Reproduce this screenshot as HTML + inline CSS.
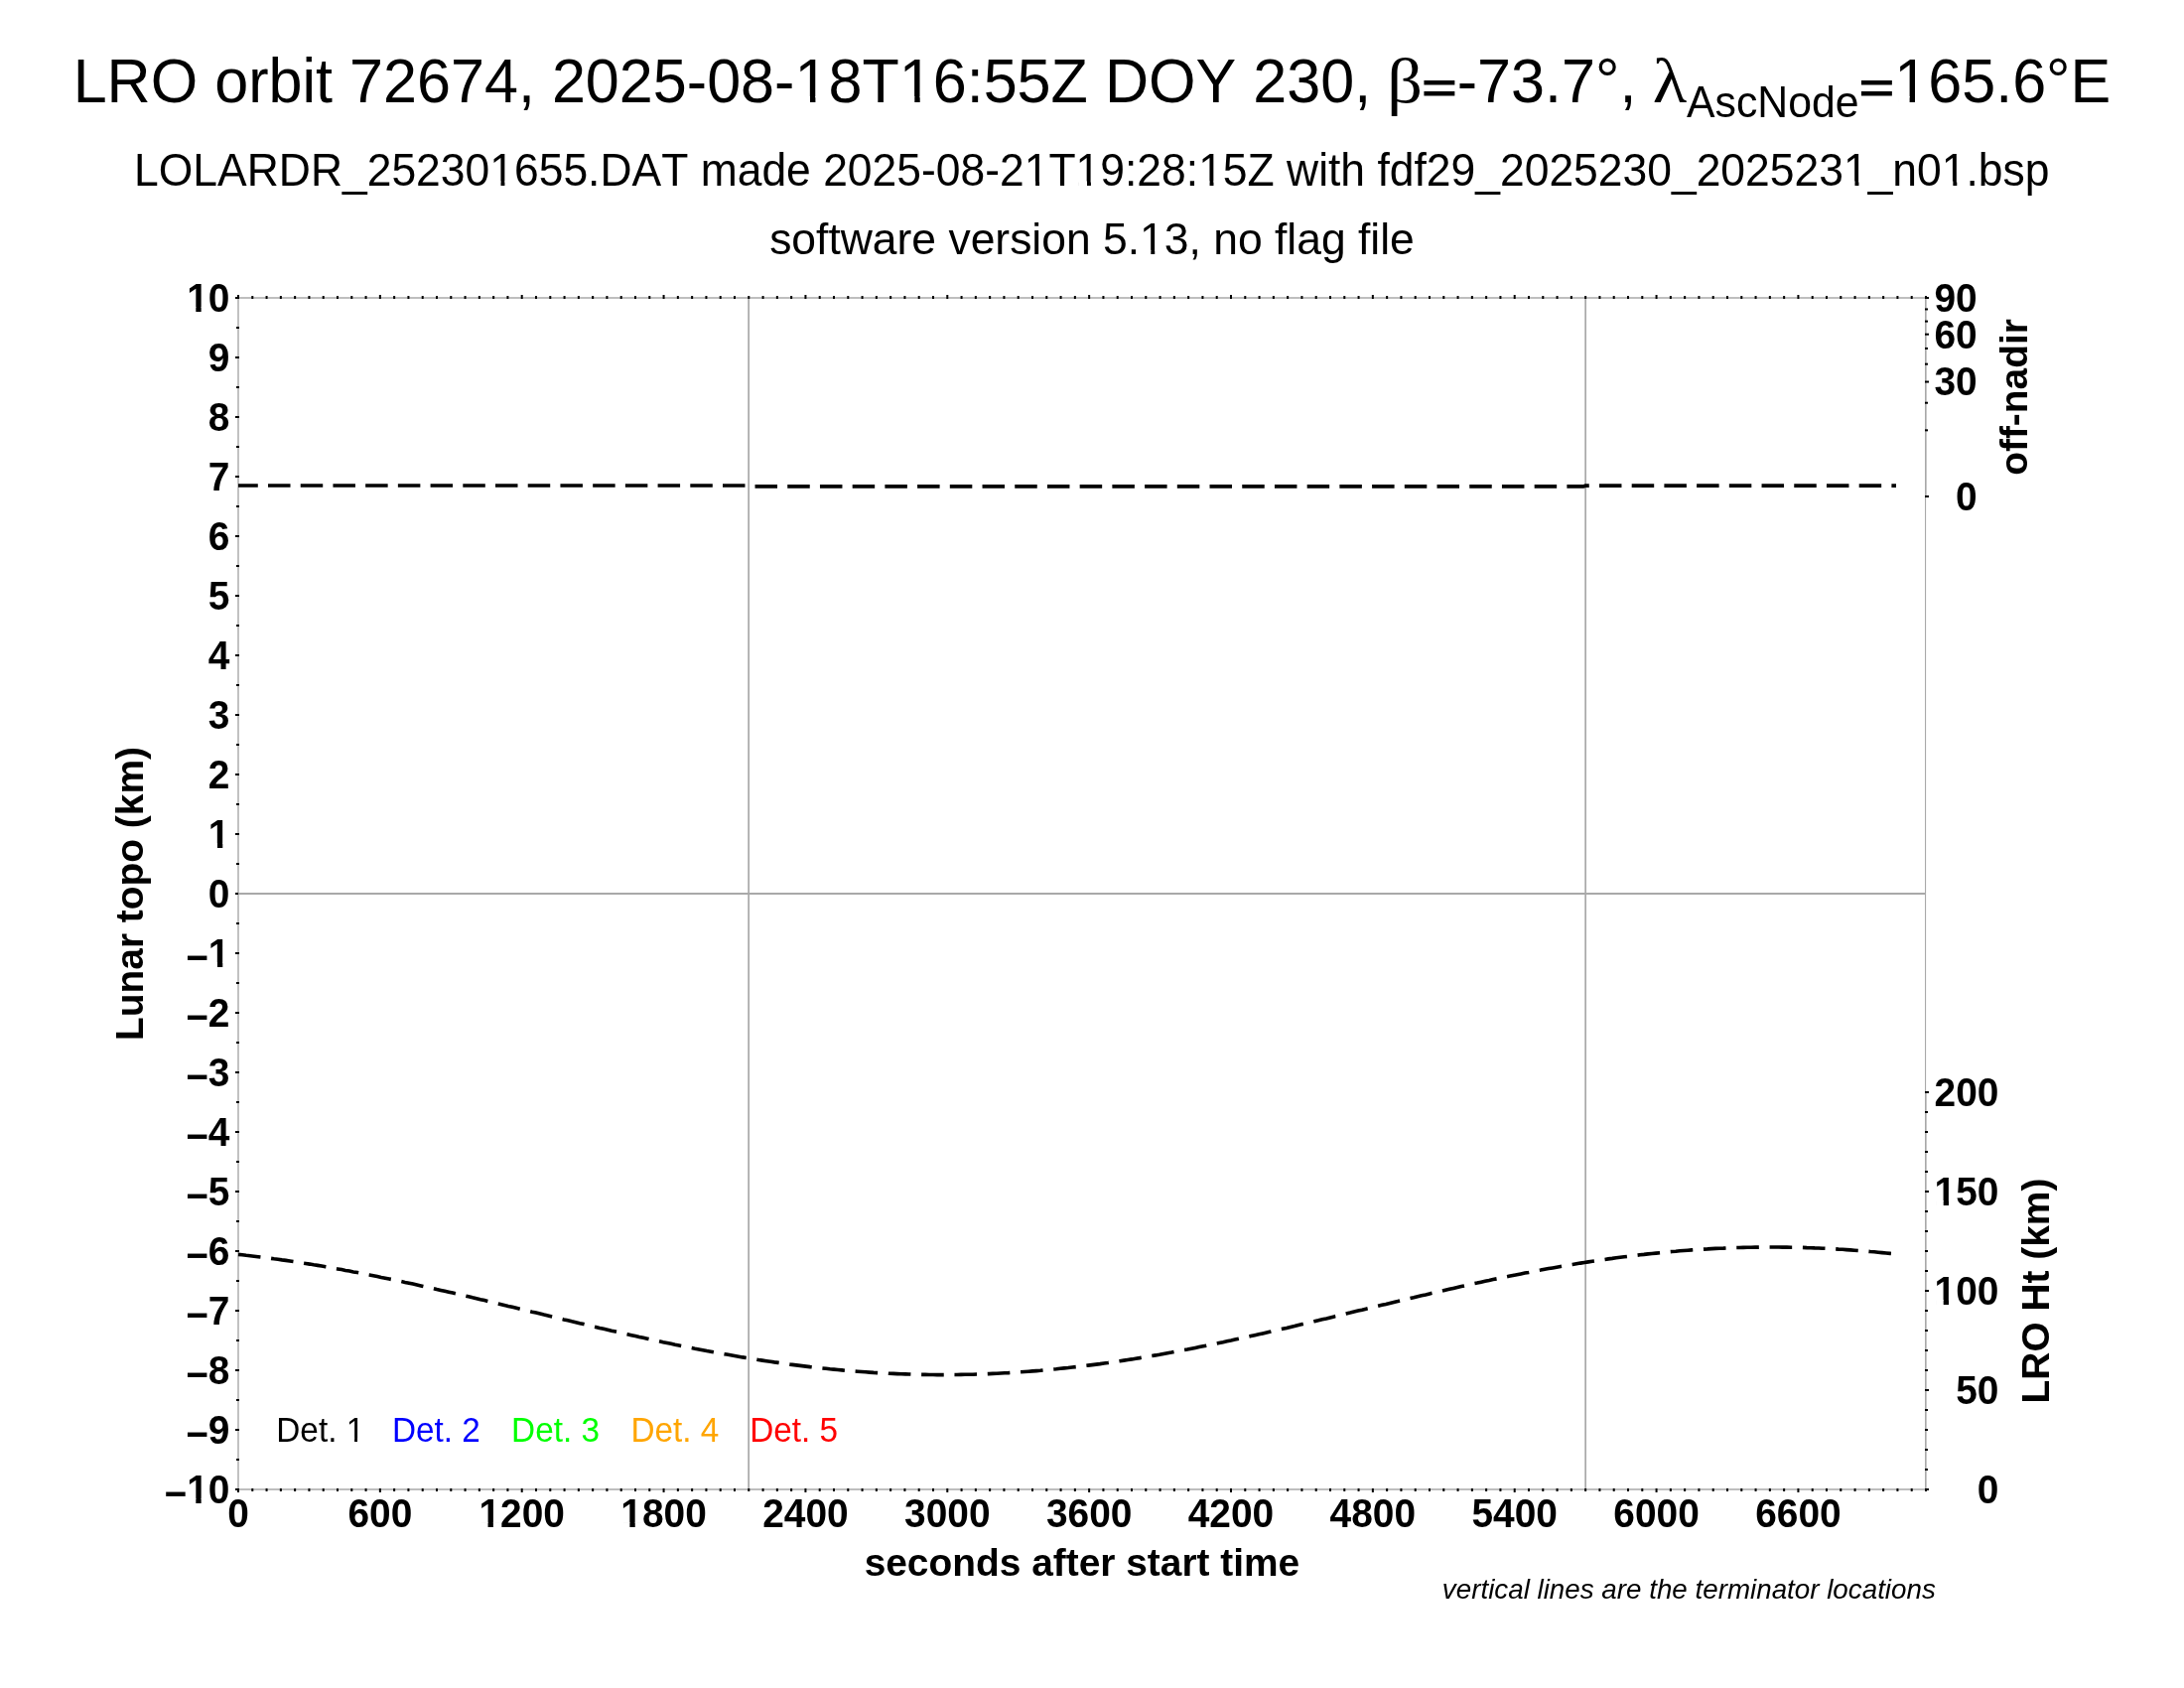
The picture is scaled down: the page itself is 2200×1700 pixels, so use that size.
<!DOCTYPE html>
<html lang="en"><head><meta charset="utf-8"><title>LRO orbit 72674</title>
<style>html,body{margin:0;padding:0;background:#fff;width:2200px;height:1700px;overflow:hidden}</style></head>
<body>
<svg width="2200" height="1700" viewBox="0 0 2200 1700" style="position:absolute;left:0;top:0;will-change:transform;font-family:'Liberation Sans',sans-serif;font-kerning:none">
<g stroke="#a9a9a9" fill="none">
<path stroke-width="1.42" d="M239.3 300H1940.1M239.3 1500H1940.1M240 300V1500"/>
<path stroke-width="1.1" d="M1939.55 300V1500"/>
<path stroke-width="1.2" d="M1940 300V500M1940 1100V1500"/>
<path stroke-width="1.7" d="M754.15 300V1500M1597.15 300V1500"/>
</g>
<g fill="#000">
<rect x="239.00" y="297.00" width="2.00" height="4.00"/>
<rect x="239.00" y="1499.00" width="2.00" height="4.00"/>
<rect x="253.29" y="298.00" width="2.00" height="3.00"/>
<rect x="253.29" y="1499.00" width="2.00" height="3.00"/>
<rect x="267.57" y="298.00" width="2.00" height="3.00"/>
<rect x="267.57" y="1499.00" width="2.00" height="3.00"/>
<rect x="281.86" y="298.00" width="2.00" height="3.00"/>
<rect x="281.86" y="1499.00" width="2.00" height="3.00"/>
<rect x="296.14" y="298.00" width="2.00" height="3.00"/>
<rect x="296.14" y="1499.00" width="2.00" height="3.00"/>
<rect x="310.43" y="298.00" width="2.00" height="3.00"/>
<rect x="310.43" y="1499.00" width="2.00" height="3.00"/>
<rect x="324.71" y="298.00" width="2.00" height="3.00"/>
<rect x="324.71" y="1499.00" width="2.00" height="3.00"/>
<rect x="339.00" y="298.00" width="2.00" height="3.00"/>
<rect x="339.00" y="1499.00" width="2.00" height="3.00"/>
<rect x="353.29" y="298.00" width="2.00" height="3.00"/>
<rect x="353.29" y="1499.00" width="2.00" height="3.00"/>
<rect x="367.57" y="298.00" width="2.00" height="3.00"/>
<rect x="367.57" y="1499.00" width="2.00" height="3.00"/>
<rect x="381.86" y="297.00" width="2.00" height="4.00"/>
<rect x="381.86" y="1499.00" width="2.00" height="4.00"/>
<rect x="396.14" y="298.00" width="2.00" height="3.00"/>
<rect x="396.14" y="1499.00" width="2.00" height="3.00"/>
<rect x="410.43" y="298.00" width="2.00" height="3.00"/>
<rect x="410.43" y="1499.00" width="2.00" height="3.00"/>
<rect x="424.71" y="298.00" width="2.00" height="3.00"/>
<rect x="424.71" y="1499.00" width="2.00" height="3.00"/>
<rect x="439.00" y="298.00" width="2.00" height="3.00"/>
<rect x="439.00" y="1499.00" width="2.00" height="3.00"/>
<rect x="453.29" y="298.00" width="2.00" height="3.00"/>
<rect x="453.29" y="1499.00" width="2.00" height="3.00"/>
<rect x="467.57" y="298.00" width="2.00" height="3.00"/>
<rect x="467.57" y="1499.00" width="2.00" height="3.00"/>
<rect x="481.86" y="298.00" width="2.00" height="3.00"/>
<rect x="481.86" y="1499.00" width="2.00" height="3.00"/>
<rect x="496.14" y="298.00" width="2.00" height="3.00"/>
<rect x="496.14" y="1499.00" width="2.00" height="3.00"/>
<rect x="510.43" y="298.00" width="2.00" height="3.00"/>
<rect x="510.43" y="1499.00" width="2.00" height="3.00"/>
<rect x="524.71" y="297.00" width="2.00" height="4.00"/>
<rect x="524.71" y="1499.00" width="2.00" height="4.00"/>
<rect x="539.00" y="298.00" width="2.00" height="3.00"/>
<rect x="539.00" y="1499.00" width="2.00" height="3.00"/>
<rect x="553.29" y="298.00" width="2.00" height="3.00"/>
<rect x="553.29" y="1499.00" width="2.00" height="3.00"/>
<rect x="567.57" y="298.00" width="2.00" height="3.00"/>
<rect x="567.57" y="1499.00" width="2.00" height="3.00"/>
<rect x="581.86" y="298.00" width="2.00" height="3.00"/>
<rect x="581.86" y="1499.00" width="2.00" height="3.00"/>
<rect x="596.14" y="298.00" width="2.00" height="3.00"/>
<rect x="596.14" y="1499.00" width="2.00" height="3.00"/>
<rect x="610.43" y="298.00" width="2.00" height="3.00"/>
<rect x="610.43" y="1499.00" width="2.00" height="3.00"/>
<rect x="624.71" y="298.00" width="2.00" height="3.00"/>
<rect x="624.71" y="1499.00" width="2.00" height="3.00"/>
<rect x="639.00" y="298.00" width="2.00" height="3.00"/>
<rect x="639.00" y="1499.00" width="2.00" height="3.00"/>
<rect x="653.29" y="298.00" width="2.00" height="3.00"/>
<rect x="653.29" y="1499.00" width="2.00" height="3.00"/>
<rect x="667.57" y="297.00" width="2.00" height="4.00"/>
<rect x="667.57" y="1499.00" width="2.00" height="4.00"/>
<rect x="681.86" y="298.00" width="2.00" height="3.00"/>
<rect x="681.86" y="1499.00" width="2.00" height="3.00"/>
<rect x="696.14" y="298.00" width="2.00" height="3.00"/>
<rect x="696.14" y="1499.00" width="2.00" height="3.00"/>
<rect x="710.43" y="298.00" width="2.00" height="3.00"/>
<rect x="710.43" y="1499.00" width="2.00" height="3.00"/>
<rect x="724.71" y="298.00" width="2.00" height="3.00"/>
<rect x="724.71" y="1499.00" width="2.00" height="3.00"/>
<rect x="739.00" y="298.00" width="2.00" height="3.00"/>
<rect x="739.00" y="1499.00" width="2.00" height="3.00"/>
<rect x="753.29" y="298.00" width="2.00" height="3.00"/>
<rect x="753.29" y="1499.00" width="2.00" height="3.00"/>
<rect x="767.57" y="298.00" width="2.00" height="3.00"/>
<rect x="767.57" y="1499.00" width="2.00" height="3.00"/>
<rect x="781.86" y="298.00" width="2.00" height="3.00"/>
<rect x="781.86" y="1499.00" width="2.00" height="3.00"/>
<rect x="796.14" y="298.00" width="2.00" height="3.00"/>
<rect x="796.14" y="1499.00" width="2.00" height="3.00"/>
<rect x="810.43" y="297.00" width="2.00" height="4.00"/>
<rect x="810.43" y="1499.00" width="2.00" height="4.00"/>
<rect x="824.71" y="298.00" width="2.00" height="3.00"/>
<rect x="824.71" y="1499.00" width="2.00" height="3.00"/>
<rect x="839.00" y="298.00" width="2.00" height="3.00"/>
<rect x="839.00" y="1499.00" width="2.00" height="3.00"/>
<rect x="853.29" y="298.00" width="2.00" height="3.00"/>
<rect x="853.29" y="1499.00" width="2.00" height="3.00"/>
<rect x="867.57" y="298.00" width="2.00" height="3.00"/>
<rect x="867.57" y="1499.00" width="2.00" height="3.00"/>
<rect x="881.86" y="298.00" width="2.00" height="3.00"/>
<rect x="881.86" y="1499.00" width="2.00" height="3.00"/>
<rect x="896.14" y="298.00" width="2.00" height="3.00"/>
<rect x="896.14" y="1499.00" width="2.00" height="3.00"/>
<rect x="910.43" y="298.00" width="2.00" height="3.00"/>
<rect x="910.43" y="1499.00" width="2.00" height="3.00"/>
<rect x="924.71" y="298.00" width="2.00" height="3.00"/>
<rect x="924.71" y="1499.00" width="2.00" height="3.00"/>
<rect x="939.00" y="298.00" width="2.00" height="3.00"/>
<rect x="939.00" y="1499.00" width="2.00" height="3.00"/>
<rect x="953.29" y="297.00" width="2.00" height="4.00"/>
<rect x="953.29" y="1499.00" width="2.00" height="4.00"/>
<rect x="967.57" y="298.00" width="2.00" height="3.00"/>
<rect x="967.57" y="1499.00" width="2.00" height="3.00"/>
<rect x="981.86" y="298.00" width="2.00" height="3.00"/>
<rect x="981.86" y="1499.00" width="2.00" height="3.00"/>
<rect x="996.14" y="298.00" width="2.00" height="3.00"/>
<rect x="996.14" y="1499.00" width="2.00" height="3.00"/>
<rect x="1010.43" y="298.00" width="2.00" height="3.00"/>
<rect x="1010.43" y="1499.00" width="2.00" height="3.00"/>
<rect x="1024.71" y="298.00" width="2.00" height="3.00"/>
<rect x="1024.71" y="1499.00" width="2.00" height="3.00"/>
<rect x="1039.00" y="298.00" width="2.00" height="3.00"/>
<rect x="1039.00" y="1499.00" width="2.00" height="3.00"/>
<rect x="1053.29" y="298.00" width="2.00" height="3.00"/>
<rect x="1053.29" y="1499.00" width="2.00" height="3.00"/>
<rect x="1067.57" y="298.00" width="2.00" height="3.00"/>
<rect x="1067.57" y="1499.00" width="2.00" height="3.00"/>
<rect x="1081.86" y="298.00" width="2.00" height="3.00"/>
<rect x="1081.86" y="1499.00" width="2.00" height="3.00"/>
<rect x="1096.14" y="297.00" width="2.00" height="4.00"/>
<rect x="1096.14" y="1499.00" width="2.00" height="4.00"/>
<rect x="1110.43" y="298.00" width="2.00" height="3.00"/>
<rect x="1110.43" y="1499.00" width="2.00" height="3.00"/>
<rect x="1124.71" y="298.00" width="2.00" height="3.00"/>
<rect x="1124.71" y="1499.00" width="2.00" height="3.00"/>
<rect x="1139.00" y="298.00" width="2.00" height="3.00"/>
<rect x="1139.00" y="1499.00" width="2.00" height="3.00"/>
<rect x="1153.29" y="298.00" width="2.00" height="3.00"/>
<rect x="1153.29" y="1499.00" width="2.00" height="3.00"/>
<rect x="1167.57" y="298.00" width="2.00" height="3.00"/>
<rect x="1167.57" y="1499.00" width="2.00" height="3.00"/>
<rect x="1181.86" y="298.00" width="2.00" height="3.00"/>
<rect x="1181.86" y="1499.00" width="2.00" height="3.00"/>
<rect x="1196.14" y="298.00" width="2.00" height="3.00"/>
<rect x="1196.14" y="1499.00" width="2.00" height="3.00"/>
<rect x="1210.43" y="298.00" width="2.00" height="3.00"/>
<rect x="1210.43" y="1499.00" width="2.00" height="3.00"/>
<rect x="1224.71" y="298.00" width="2.00" height="3.00"/>
<rect x="1224.71" y="1499.00" width="2.00" height="3.00"/>
<rect x="1239.00" y="297.00" width="2.00" height="4.00"/>
<rect x="1239.00" y="1499.00" width="2.00" height="4.00"/>
<rect x="1253.29" y="298.00" width="2.00" height="3.00"/>
<rect x="1253.29" y="1499.00" width="2.00" height="3.00"/>
<rect x="1267.57" y="298.00" width="2.00" height="3.00"/>
<rect x="1267.57" y="1499.00" width="2.00" height="3.00"/>
<rect x="1281.86" y="298.00" width="2.00" height="3.00"/>
<rect x="1281.86" y="1499.00" width="2.00" height="3.00"/>
<rect x="1296.14" y="298.00" width="2.00" height="3.00"/>
<rect x="1296.14" y="1499.00" width="2.00" height="3.00"/>
<rect x="1310.43" y="298.00" width="2.00" height="3.00"/>
<rect x="1310.43" y="1499.00" width="2.00" height="3.00"/>
<rect x="1324.71" y="298.00" width="2.00" height="3.00"/>
<rect x="1324.71" y="1499.00" width="2.00" height="3.00"/>
<rect x="1339.00" y="298.00" width="2.00" height="3.00"/>
<rect x="1339.00" y="1499.00" width="2.00" height="3.00"/>
<rect x="1353.29" y="298.00" width="2.00" height="3.00"/>
<rect x="1353.29" y="1499.00" width="2.00" height="3.00"/>
<rect x="1367.57" y="298.00" width="2.00" height="3.00"/>
<rect x="1367.57" y="1499.00" width="2.00" height="3.00"/>
<rect x="1381.86" y="297.00" width="2.00" height="4.00"/>
<rect x="1381.86" y="1499.00" width="2.00" height="4.00"/>
<rect x="1396.14" y="298.00" width="2.00" height="3.00"/>
<rect x="1396.14" y="1499.00" width="2.00" height="3.00"/>
<rect x="1410.43" y="298.00" width="2.00" height="3.00"/>
<rect x="1410.43" y="1499.00" width="2.00" height="3.00"/>
<rect x="1424.71" y="298.00" width="2.00" height="3.00"/>
<rect x="1424.71" y="1499.00" width="2.00" height="3.00"/>
<rect x="1439.00" y="298.00" width="2.00" height="3.00"/>
<rect x="1439.00" y="1499.00" width="2.00" height="3.00"/>
<rect x="1453.29" y="298.00" width="2.00" height="3.00"/>
<rect x="1453.29" y="1499.00" width="2.00" height="3.00"/>
<rect x="1467.57" y="298.00" width="2.00" height="3.00"/>
<rect x="1467.57" y="1499.00" width="2.00" height="3.00"/>
<rect x="1481.86" y="298.00" width="2.00" height="3.00"/>
<rect x="1481.86" y="1499.00" width="2.00" height="3.00"/>
<rect x="1496.14" y="298.00" width="2.00" height="3.00"/>
<rect x="1496.14" y="1499.00" width="2.00" height="3.00"/>
<rect x="1510.43" y="298.00" width="2.00" height="3.00"/>
<rect x="1510.43" y="1499.00" width="2.00" height="3.00"/>
<rect x="1524.71" y="297.00" width="2.00" height="4.00"/>
<rect x="1524.71" y="1499.00" width="2.00" height="4.00"/>
<rect x="1539.00" y="298.00" width="2.00" height="3.00"/>
<rect x="1539.00" y="1499.00" width="2.00" height="3.00"/>
<rect x="1553.29" y="298.00" width="2.00" height="3.00"/>
<rect x="1553.29" y="1499.00" width="2.00" height="3.00"/>
<rect x="1567.57" y="298.00" width="2.00" height="3.00"/>
<rect x="1567.57" y="1499.00" width="2.00" height="3.00"/>
<rect x="1581.86" y="298.00" width="2.00" height="3.00"/>
<rect x="1581.86" y="1499.00" width="2.00" height="3.00"/>
<rect x="1596.14" y="298.00" width="2.00" height="3.00"/>
<rect x="1596.14" y="1499.00" width="2.00" height="3.00"/>
<rect x="1610.43" y="298.00" width="2.00" height="3.00"/>
<rect x="1610.43" y="1499.00" width="2.00" height="3.00"/>
<rect x="1624.71" y="298.00" width="2.00" height="3.00"/>
<rect x="1624.71" y="1499.00" width="2.00" height="3.00"/>
<rect x="1639.00" y="298.00" width="2.00" height="3.00"/>
<rect x="1639.00" y="1499.00" width="2.00" height="3.00"/>
<rect x="1653.29" y="298.00" width="2.00" height="3.00"/>
<rect x="1653.29" y="1499.00" width="2.00" height="3.00"/>
<rect x="1667.57" y="297.00" width="2.00" height="4.00"/>
<rect x="1667.57" y="1499.00" width="2.00" height="4.00"/>
<rect x="1681.86" y="298.00" width="2.00" height="3.00"/>
<rect x="1681.86" y="1499.00" width="2.00" height="3.00"/>
<rect x="1696.14" y="298.00" width="2.00" height="3.00"/>
<rect x="1696.14" y="1499.00" width="2.00" height="3.00"/>
<rect x="1710.43" y="298.00" width="2.00" height="3.00"/>
<rect x="1710.43" y="1499.00" width="2.00" height="3.00"/>
<rect x="1724.71" y="298.00" width="2.00" height="3.00"/>
<rect x="1724.71" y="1499.00" width="2.00" height="3.00"/>
<rect x="1739.00" y="298.00" width="2.00" height="3.00"/>
<rect x="1739.00" y="1499.00" width="2.00" height="3.00"/>
<rect x="1753.29" y="298.00" width="2.00" height="3.00"/>
<rect x="1753.29" y="1499.00" width="2.00" height="3.00"/>
<rect x="1767.57" y="298.00" width="2.00" height="3.00"/>
<rect x="1767.57" y="1499.00" width="2.00" height="3.00"/>
<rect x="1781.86" y="298.00" width="2.00" height="3.00"/>
<rect x="1781.86" y="1499.00" width="2.00" height="3.00"/>
<rect x="1796.14" y="298.00" width="2.00" height="3.00"/>
<rect x="1796.14" y="1499.00" width="2.00" height="3.00"/>
<rect x="1810.43" y="297.00" width="2.00" height="4.00"/>
<rect x="1810.43" y="1499.00" width="2.00" height="4.00"/>
<rect x="1824.71" y="298.00" width="2.00" height="3.00"/>
<rect x="1824.71" y="1499.00" width="2.00" height="3.00"/>
<rect x="1839.00" y="298.00" width="2.00" height="3.00"/>
<rect x="1839.00" y="1499.00" width="2.00" height="3.00"/>
<rect x="1853.29" y="298.00" width="2.00" height="3.00"/>
<rect x="1853.29" y="1499.00" width="2.00" height="3.00"/>
<rect x="1867.57" y="298.00" width="2.00" height="3.00"/>
<rect x="1867.57" y="1499.00" width="2.00" height="3.00"/>
<rect x="1881.86" y="298.00" width="2.00" height="3.00"/>
<rect x="1881.86" y="1499.00" width="2.00" height="3.00"/>
<rect x="1896.14" y="298.00" width="2.00" height="3.00"/>
<rect x="1896.14" y="1499.00" width="2.00" height="3.00"/>
<rect x="1910.43" y="298.00" width="2.00" height="3.00"/>
<rect x="1910.43" y="1499.00" width="2.00" height="3.00"/>
<rect x="1924.71" y="298.00" width="2.00" height="3.00"/>
<rect x="1924.71" y="1499.00" width="2.00" height="3.00"/>
<rect x="1939.00" y="298.00" width="2.00" height="3.00"/>
<rect x="1939.00" y="1499.00" width="2.00" height="3.00"/>
<rect x="237.00" y="299.00" width="4.00" height="2.00"/>
<rect x="238.00" y="329.00" width="3.00" height="2.00"/>
<rect x="237.00" y="359.00" width="4.00" height="2.00"/>
<rect x="238.00" y="389.00" width="3.00" height="2.00"/>
<rect x="237.00" y="419.00" width="4.00" height="2.00"/>
<rect x="238.00" y="449.00" width="3.00" height="2.00"/>
<rect x="237.00" y="479.00" width="4.00" height="2.00"/>
<rect x="238.00" y="509.00" width="3.00" height="2.00"/>
<rect x="237.00" y="539.00" width="4.00" height="2.00"/>
<rect x="238.00" y="569.00" width="3.00" height="2.00"/>
<rect x="237.00" y="599.00" width="4.00" height="2.00"/>
<rect x="238.00" y="629.00" width="3.00" height="2.00"/>
<rect x="237.00" y="659.00" width="4.00" height="2.00"/>
<rect x="238.00" y="689.00" width="3.00" height="2.00"/>
<rect x="237.00" y="719.00" width="4.00" height="2.00"/>
<rect x="238.00" y="749.00" width="3.00" height="2.00"/>
<rect x="237.00" y="779.00" width="4.00" height="2.00"/>
<rect x="238.00" y="809.00" width="3.00" height="2.00"/>
<rect x="237.00" y="839.00" width="4.00" height="2.00"/>
<rect x="238.00" y="869.00" width="3.00" height="2.00"/>
<rect x="237.00" y="899.00" width="4.00" height="2.00"/>
<rect x="238.00" y="929.00" width="3.00" height="2.00"/>
<rect x="237.00" y="959.00" width="4.00" height="2.00"/>
<rect x="238.00" y="989.00" width="3.00" height="2.00"/>
<rect x="237.00" y="1019.00" width="4.00" height="2.00"/>
<rect x="238.00" y="1049.00" width="3.00" height="2.00"/>
<rect x="237.00" y="1079.00" width="4.00" height="2.00"/>
<rect x="238.00" y="1109.00" width="3.00" height="2.00"/>
<rect x="237.00" y="1139.00" width="4.00" height="2.00"/>
<rect x="238.00" y="1169.00" width="3.00" height="2.00"/>
<rect x="237.00" y="1199.00" width="4.00" height="2.00"/>
<rect x="238.00" y="1229.00" width="3.00" height="2.00"/>
<rect x="237.00" y="1259.00" width="4.00" height="2.00"/>
<rect x="238.00" y="1289.00" width="3.00" height="2.00"/>
<rect x="237.00" y="1319.00" width="4.00" height="2.00"/>
<rect x="238.00" y="1349.00" width="3.00" height="2.00"/>
<rect x="237.00" y="1379.00" width="4.00" height="2.00"/>
<rect x="238.00" y="1409.00" width="3.00" height="2.00"/>
<rect x="237.00" y="1439.00" width="4.00" height="2.00"/>
<rect x="238.00" y="1469.00" width="3.00" height="2.00"/>
<rect x="237.00" y="1499.00" width="4.00" height="2.00"/>
<rect x="1939.00" y="499.00" width="4.00" height="2.00"/>
<rect x="1939.00" y="432.33" width="3.00" height="2.00"/>
<rect x="1939.00" y="404.72" width="3.00" height="2.00"/>
<rect x="1939.00" y="383.53" width="4.00" height="2.00"/>
<rect x="1939.00" y="365.67" width="3.00" height="2.00"/>
<rect x="1939.00" y="349.93" width="3.00" height="2.00"/>
<rect x="1939.00" y="335.70" width="4.00" height="2.00"/>
<rect x="1939.00" y="322.62" width="3.00" height="2.00"/>
<rect x="1939.00" y="310.44" width="3.00" height="2.00"/>
<rect x="1939.00" y="299.00" width="4.00" height="2.00"/>
<rect x="1939.00" y="1499.00" width="4.00" height="2.00"/>
<rect x="1939.00" y="1479.00" width="3.00" height="2.00"/>
<rect x="1939.00" y="1459.00" width="3.00" height="2.00"/>
<rect x="1939.00" y="1439.00" width="3.00" height="2.00"/>
<rect x="1939.00" y="1419.00" width="3.00" height="2.00"/>
<rect x="1939.00" y="1399.00" width="4.00" height="2.00"/>
<rect x="1939.00" y="1379.00" width="3.00" height="2.00"/>
<rect x="1939.00" y="1359.00" width="3.00" height="2.00"/>
<rect x="1939.00" y="1339.00" width="3.00" height="2.00"/>
<rect x="1939.00" y="1319.00" width="3.00" height="2.00"/>
<rect x="1939.00" y="1299.00" width="4.00" height="2.00"/>
<rect x="1939.00" y="1279.00" width="3.00" height="2.00"/>
<rect x="1939.00" y="1259.00" width="3.00" height="2.00"/>
<rect x="1939.00" y="1239.00" width="3.00" height="2.00"/>
<rect x="1939.00" y="1219.00" width="3.00" height="2.00"/>
<rect x="1939.00" y="1199.00" width="4.00" height="2.00"/>
<rect x="1939.00" y="1179.00" width="3.00" height="2.00"/>
<rect x="1939.00" y="1159.00" width="3.00" height="2.00"/>
<rect x="1939.00" y="1139.00" width="3.00" height="2.00"/>
<rect x="1939.00" y="1119.00" width="3.00" height="2.00"/>
<rect x="1939.00" y="1099.00" width="4.00" height="2.00"/>
</g>
<path stroke="#a9a9a9" stroke-width="2" d="M240 900H1940"/>
<path d="M240.0 1263.4 L244.0 1263.8 L248.0 1264.3 L252.0 1264.7 L256.0 1265.2 L260.0 1265.7 L264.0 1266.2 L268.0 1266.7 L272.0 1267.2 L276.0 1267.8 L280.0 1268.3 L284.0 1268.9 L288.0 1269.4 L292.0 1270.0 L296.0 1270.6 L300.0 1271.2 L304.0 1271.9 L308.0 1272.5 L312.0 1273.1 L316.0 1273.8 L320.0 1274.4 L324.0 1275.1 L328.0 1275.8 L332.0 1276.5 L336.0 1277.2 L340.0 1277.9 L344.0 1278.6 L348.0 1279.4 L352.0 1280.1 L356.0 1280.9 L360.0 1281.6 L364.0 1282.4 L368.0 1283.2 L372.0 1283.9 L376.0 1284.7 L380.0 1285.5 L384.0 1286.4 L388.0 1287.2 L392.0 1288.0 L396.0 1288.8 L400.0 1289.7 L404.0 1290.5 L408.0 1291.4 L412.0 1292.2 L416.0 1293.1 L420.0 1294.0 L424.0 1294.9 L428.0 1295.8 L432.0 1296.7 L436.0 1297.5 L440.0 1298.5 L444.0 1299.4 L448.0 1300.3 L452.0 1301.2 L456.0 1302.1 L460.0 1303.0 L464.0 1304.0 L468.0 1304.9 L472.0 1305.8 L476.0 1306.8 L480.0 1307.7 L484.0 1308.7 L488.0 1309.6 L492.0 1310.6 L496.0 1311.5 L500.0 1312.5 L504.0 1313.4 L508.0 1314.4 L512.0 1315.4 L516.0 1316.3 L520.0 1317.3 L524.0 1318.3 L528.0 1319.2 L532.0 1320.2 L536.0 1321.2 L540.0 1322.1 L544.0 1323.1 L548.0 1324.1 L552.0 1325.0 L556.0 1326.0 L560.0 1326.9 L564.0 1327.9 L568.0 1328.9 L572.0 1329.8 L576.0 1330.8 L580.0 1331.7 L584.0 1332.7 L588.0 1333.6 L592.0 1334.6 L596.0 1335.5 L600.0 1336.4 L604.0 1337.4 L608.0 1338.3 L612.0 1339.2 L616.0 1340.2 L620.0 1341.1 L624.0 1342.0 L628.0 1342.9 L632.0 1343.8 L636.0 1344.7 L640.0 1345.6 L644.0 1346.5 L648.0 1347.3 L652.0 1348.2 L656.0 1349.1 L660.0 1349.9 L664.0 1350.8 L668.0 1351.7 L672.0 1352.5 L676.0 1353.3 L680.0 1354.2 L684.0 1355.0 L688.0 1355.8 L692.0 1356.6 L696.0 1357.4 L700.0 1358.2 L704.0 1358.9 L708.0 1359.7 L712.0 1360.5 L716.0 1361.2 L720.0 1362.0 L724.0 1362.7 L728.0 1363.4 L732.0 1364.1 L736.0 1364.8 L740.0 1365.5 L744.0 1366.2 L748.0 1366.9 L752.0 1367.5 L756.0 1368.2 L760.0 1368.8 L764.0 1369.5 L768.0 1370.1 L772.0 1370.7 L776.0 1371.3 L780.0 1371.9 L784.0 1372.4 L788.0 1373.0 L792.0 1373.5 L796.0 1374.1 L800.0 1374.6 L804.0 1375.1 L808.0 1375.6 L812.0 1376.1 L816.0 1376.6 L820.0 1377.0 L824.0 1377.5 L828.0 1377.9 L832.0 1378.3 L836.0 1378.8 L840.0 1379.1 L844.0 1379.5 L848.0 1379.9 L852.0 1380.3 L856.0 1380.6 L860.0 1380.9 L864.0 1381.2 L868.0 1381.5 L872.0 1381.8 L876.0 1382.1 L880.0 1382.4 L884.0 1382.6 L888.0 1382.8 L892.0 1383.0 L896.0 1383.3 L900.0 1383.4 L904.0 1383.6 L908.0 1383.8 L912.0 1383.9 L916.0 1384.0 L920.0 1384.2 L924.0 1384.3 L928.0 1384.4 L932.0 1384.4 L936.0 1384.5 L940.0 1384.5 L944.0 1384.6 L948.0 1384.6 L952.0 1384.6 L956.0 1384.5 L960.0 1384.5 L964.0 1384.5 L968.0 1384.4 L972.0 1384.3 L976.0 1384.3 L980.0 1384.2 L984.0 1384.0 L988.0 1383.9 L992.0 1383.8 L996.0 1383.6 L1000.0 1383.4 L1004.0 1383.2 L1008.0 1383.0 L1012.0 1382.8 L1016.0 1382.6 L1020.0 1382.3 L1024.0 1382.1 L1028.0 1381.8 L1032.0 1381.5 L1036.0 1381.2 L1040.0 1380.9 L1044.0 1380.6 L1048.0 1380.3 L1052.0 1379.9 L1056.0 1379.5 L1060.0 1379.1 L1064.0 1378.8 L1068.0 1378.3 L1072.0 1377.9 L1076.0 1377.5 L1080.0 1377.0 L1084.0 1376.6 L1088.0 1376.1 L1092.0 1375.6 L1096.0 1375.1 L1100.0 1374.6 L1104.0 1374.1 L1108.0 1373.6 L1112.0 1373.0 L1116.0 1372.5 L1120.0 1371.9 L1124.0 1371.3 L1128.0 1370.7 L1132.0 1370.1 L1136.0 1369.5 L1140.0 1368.9 L1144.0 1368.2 L1148.0 1367.6 L1152.0 1366.9 L1156.0 1366.2 L1160.0 1365.5 L1164.0 1364.9 L1168.0 1364.2 L1172.0 1363.4 L1176.0 1362.7 L1180.0 1362.0 L1184.0 1361.2 L1188.0 1360.5 L1192.0 1359.7 L1196.0 1359.0 L1200.0 1358.2 L1204.0 1357.4 L1208.0 1356.6 L1212.0 1355.8 L1216.0 1355.0 L1220.0 1354.2 L1224.0 1353.3 L1228.0 1352.5 L1232.0 1351.7 L1236.0 1350.8 L1240.0 1350.0 L1244.0 1349.1 L1248.0 1348.2 L1252.0 1347.4 L1256.0 1346.5 L1260.0 1345.6 L1264.0 1344.7 L1268.0 1343.8 L1272.0 1342.9 L1276.0 1342.0 L1280.0 1341.1 L1284.0 1340.1 L1288.0 1339.2 L1292.0 1338.3 L1296.0 1337.4 L1300.0 1336.4 L1304.0 1335.5 L1308.0 1334.5 L1312.0 1333.6 L1316.0 1332.7 L1320.0 1331.7 L1324.0 1330.7 L1328.0 1329.8 L1332.0 1328.8 L1336.0 1327.9 L1340.0 1326.9 L1344.0 1325.9 L1348.0 1325.0 L1352.0 1324.0 L1356.0 1323.0 L1360.0 1322.1 L1364.0 1321.1 L1368.0 1320.1 L1372.0 1319.2 L1376.0 1318.2 L1380.0 1317.2 L1384.0 1316.3 L1388.0 1315.3 L1392.0 1314.3 L1396.0 1313.4 L1400.0 1312.4 L1404.0 1311.4 L1408.0 1310.5 L1412.0 1309.5 L1416.0 1308.6 L1420.0 1307.6 L1424.0 1306.7 L1428.0 1305.7 L1432.0 1304.8 L1436.0 1303.9 L1440.0 1302.9 L1444.0 1302.0 L1448.0 1301.1 L1452.0 1300.1 L1456.0 1299.2 L1460.0 1298.3 L1464.0 1297.4 L1468.0 1296.5 L1472.0 1295.6 L1476.0 1294.7 L1480.0 1293.8 L1484.0 1292.9 L1488.0 1292.1 L1492.0 1291.2 L1496.0 1290.3 L1500.0 1289.5 L1504.0 1288.6 L1508.0 1287.8 L1512.0 1287.0 L1516.0 1286.1 L1520.0 1285.3 L1524.0 1284.5 L1528.0 1283.7 L1532.0 1282.9 L1536.0 1282.1 L1540.0 1281.4 L1544.0 1280.6 L1548.0 1279.8 L1552.0 1279.1 L1556.0 1278.3 L1560.0 1277.6 L1564.0 1276.9 L1568.0 1276.2 L1572.0 1275.5 L1576.0 1274.8 L1580.0 1274.1 L1584.0 1273.5 L1588.0 1272.8 L1592.0 1272.1 L1596.0 1271.5 L1600.0 1270.9 L1604.0 1270.3 L1608.0 1269.7 L1612.0 1269.1 L1616.0 1268.5 L1620.0 1267.9 L1624.0 1267.4 L1628.0 1266.8 L1632.0 1266.3 L1636.0 1265.8 L1640.0 1265.3 L1644.0 1264.8 L1648.0 1264.3 L1652.0 1263.8 L1656.0 1263.4 L1660.0 1262.9 L1664.0 1262.5 L1668.0 1262.1 L1672.0 1261.7 L1676.0 1261.3 L1680.0 1260.9 L1684.0 1260.5 L1688.0 1260.2 L1692.0 1259.8 L1696.0 1259.5 L1700.0 1259.2 L1704.0 1258.9 L1708.0 1258.6 L1712.0 1258.4 L1716.0 1258.1 L1720.0 1257.9 L1724.0 1257.6 L1728.0 1257.4 L1732.0 1257.2 L1736.0 1257.1 L1740.0 1256.9 L1744.0 1256.7 L1748.0 1256.6 L1752.0 1256.5 L1756.0 1256.4 L1760.0 1256.3 L1764.0 1256.2 L1768.0 1256.1 L1772.0 1256.1 L1776.0 1256.0 L1780.0 1256.0 L1784.0 1256.0 L1788.0 1256.0 L1792.0 1256.0 L1796.0 1256.1 L1800.0 1256.1 L1804.0 1256.2 L1808.0 1256.2 L1812.0 1256.3 L1816.0 1256.4 L1820.0 1256.6 L1824.0 1256.7 L1828.0 1256.9 L1832.0 1257.0 L1836.0 1257.2 L1840.0 1257.4 L1844.0 1257.6 L1848.0 1257.8 L1852.0 1258.1 L1856.0 1258.3 L1860.0 1258.6 L1864.0 1258.9 L1868.0 1259.2 L1872.0 1259.5 L1876.0 1259.8 L1880.0 1260.1 L1884.0 1260.5 L1888.0 1260.8 L1892.0 1261.2 L1896.0 1261.6 L1900.0 1262.0 L1904.0 1262.4 L1906.0 1262.6" fill="none" stroke="#000" stroke-width="3.6" stroke-dasharray="22.6 10.73"/>
<path d="M240 489L754 489L756 489.9L1595 489.9L1597 489.2L1910 489.2" fill="none" stroke="#000" stroke-width="3.7" stroke-dasharray="22.5 10.214" stroke-dashoffset="2.7"/>
<text transform="translate(188.24 1513.90) scale(1 1.035)" font-size="38.89px" font-weight="bold">10</text>
<text transform="translate(165.53 1518.10) scale(1 1.035)" font-size="38.89px" font-weight="bold">−</text>
<text transform="translate(209.87 1453.90) scale(1 1.035)" font-size="38.89px" font-weight="bold">9</text>
<text transform="translate(187.16 1458.10) scale(1 1.035)" font-size="38.89px" font-weight="bold">−</text>
<text transform="translate(209.87 1393.90) scale(1 1.035)" font-size="38.89px" font-weight="bold">8</text>
<text transform="translate(187.16 1398.10) scale(1 1.035)" font-size="38.89px" font-weight="bold">−</text>
<text transform="translate(209.87 1333.90) scale(1 1.035)" font-size="38.89px" font-weight="bold">7</text>
<text transform="translate(187.16 1338.10) scale(1 1.035)" font-size="38.89px" font-weight="bold">−</text>
<text transform="translate(209.87 1273.90) scale(1 1.035)" font-size="38.89px" font-weight="bold">6</text>
<text transform="translate(187.16 1278.10) scale(1 1.035)" font-size="38.89px" font-weight="bold">−</text>
<text transform="translate(209.87 1213.90) scale(1 1.035)" font-size="38.89px" font-weight="bold">5</text>
<text transform="translate(187.16 1218.10) scale(1 1.035)" font-size="38.89px" font-weight="bold">−</text>
<text transform="translate(209.87 1153.90) scale(1 1.035)" font-size="38.89px" font-weight="bold">4</text>
<text transform="translate(187.16 1158.10) scale(1 1.035)" font-size="38.89px" font-weight="bold">−</text>
<text transform="translate(209.87 1093.90) scale(1 1.035)" font-size="38.89px" font-weight="bold">3</text>
<text transform="translate(187.16 1098.10) scale(1 1.035)" font-size="38.89px" font-weight="bold">−</text>
<text transform="translate(209.87 1033.90) scale(1 1.035)" font-size="38.89px" font-weight="bold">2</text>
<text transform="translate(187.16 1038.10) scale(1 1.035)" font-size="38.89px" font-weight="bold">−</text>
<text transform="translate(209.87 973.90) scale(1 1.035)" font-size="38.89px" font-weight="bold">1</text>
<text transform="translate(187.16 978.10) scale(1 1.035)" font-size="38.89px" font-weight="bold">−</text>
<text transform="translate(209.87 913.90) scale(1 1.035)" font-size="38.89px" font-weight="bold">0</text>
<text transform="translate(209.87 853.90) scale(1 1.035)" font-size="38.89px" font-weight="bold">1</text>
<text transform="translate(209.87 793.90) scale(1 1.035)" font-size="38.89px" font-weight="bold">2</text>
<text transform="translate(209.87 733.90) scale(1 1.035)" font-size="38.89px" font-weight="bold">3</text>
<text transform="translate(209.87 673.90) scale(1 1.035)" font-size="38.89px" font-weight="bold">4</text>
<text transform="translate(209.87 613.90) scale(1 1.035)" font-size="38.89px" font-weight="bold">5</text>
<text transform="translate(209.87 553.90) scale(1 1.035)" font-size="38.89px" font-weight="bold">6</text>
<text transform="translate(209.87 493.90) scale(1 1.035)" font-size="38.89px" font-weight="bold">7</text>
<text transform="translate(209.87 433.90) scale(1 1.035)" font-size="38.89px" font-weight="bold">8</text>
<text transform="translate(209.87 373.90) scale(1 1.035)" font-size="38.89px" font-weight="bold">9</text>
<text transform="translate(188.24 313.90) scale(1 1.035)" font-size="38.89px" font-weight="bold">10</text>
<text transform="translate(229.19 1538.00) scale(1 1.035)" font-size="38.89px" font-weight="bold">0</text>
<text transform="translate(350.41 1538.00) scale(1 1.035)" font-size="38.89px" font-weight="bold">600</text>
<text transform="translate(482.46 1538.00) scale(1 1.035)" font-size="38.89px" font-weight="bold">1200</text>
<text transform="translate(625.32 1538.00) scale(1 1.035)" font-size="38.89px" font-weight="bold">1800</text>
<text transform="translate(768.17 1538.00) scale(1 1.035)" font-size="38.89px" font-weight="bold">2400</text>
<text transform="translate(911.03 1538.00) scale(1 1.035)" font-size="38.89px" font-weight="bold">3000</text>
<text transform="translate(1053.89 1538.00) scale(1 1.035)" font-size="38.89px" font-weight="bold">3600</text>
<text transform="translate(1196.74 1538.00) scale(1 1.035)" font-size="38.89px" font-weight="bold">4200</text>
<text transform="translate(1339.60 1538.00) scale(1 1.035)" font-size="38.89px" font-weight="bold">4800</text>
<text transform="translate(1482.46 1538.00) scale(1 1.035)" font-size="38.89px" font-weight="bold">5400</text>
<text transform="translate(1625.32 1538.00) scale(1 1.035)" font-size="38.89px" font-weight="bold">6000</text>
<text transform="translate(1768.17 1538.00) scale(1 1.035)" font-size="38.89px" font-weight="bold">6600</text>
<text transform="translate(1970.07 513.90) scale(1 1.035)" font-size="38.89px" font-weight="bold">0</text>
<text transform="translate(1948.44 398.43) scale(1 1.035)" font-size="38.89px" font-weight="bold">30</text>
<text transform="translate(1948.44 350.60) scale(1 1.035)" font-size="38.89px" font-weight="bold">60</text>
<text transform="translate(1948.44 313.90) scale(1 1.035)" font-size="38.89px" font-weight="bold">90</text>
<text transform="translate(1991.87 1513.90) scale(1 1.035)" font-size="38.89px" font-weight="bold">0</text>
<text transform="translate(1970.24 1413.90) scale(1 1.035)" font-size="38.89px" font-weight="bold">50</text>
<text transform="translate(1948.62 1313.90) scale(1 1.035)" font-size="38.89px" font-weight="bold">100</text>
<text transform="translate(1948.62 1213.90) scale(1 1.035)" font-size="38.89px" font-weight="bold">150</text>
<text transform="translate(1948.62 1113.90) scale(1 1.035)" font-size="38.89px" font-weight="bold">200</text>
<text transform="translate(870.63 1587.40) scale(1 1.000)" font-size="38.89px" font-weight="bold">seconds after start time</text>
<text transform="translate(143.80 900.00) rotate(-90) scale(1 1.000)" font-size="38.89px" text-anchor="middle" font-weight="bold">Lunar topo (km)</text>
<text transform="translate(2041.80 400.00) rotate(-90) scale(1 1.000)" font-size="38.89px" text-anchor="middle" font-weight="bold">off-nadir</text>
<text transform="translate(2063.80 1300.00) rotate(-90) scale(1 1.000)" font-size="38.89px" text-anchor="middle" font-weight="bold">LRO Ht (km)</text>
<text transform="translate(278.30 1451.80) scale(1 1.035)" font-size="33.33px">Det. 1</text>
<text transform="translate(395.00 1451.80) scale(1 1.035)" font-size="33.33px" fill="#0000ff">Det. 2</text>
<text transform="translate(515.10 1451.80) scale(1 1.035)" font-size="33.33px" fill="#00ff00">Det. 3</text>
<text transform="translate(635.40 1451.80) scale(1 1.035)" font-size="33.33px" fill="#ffa500">Det. 4</text>
<text transform="translate(755.20 1451.80) scale(1 1.035)" font-size="33.33px" fill="#ff0000">Det. 5</text>
<text transform="translate(1452.86 1609.70) scale(1 1.000)" font-size="27.78px" font-style="italic">vertical lines are the terminator locations</text>
<text transform="translate(135.09 186.70) scale(1 1.035)" font-size="44.44px">LOLARDR_252301655.DAT made 2025-08-21T19:28:15Z with fdf29_2025230_2025231_n01.bsp</text>
<text transform="translate(775.13 256.00) scale(1 1.000)" font-size="44.44px">software version 5.13, no flag file</text>
<text transform="translate(73.63 102.50) scale(1 1.035)" font-size="61.11px">LRO orbit 72674, 2025-08-18T16:55Z DOY 230, </text>
<text transform="translate(1397.18 102.50) scale(1.148 1.035)" font-size="61.11px" font-family="'Liberation Serif',serif">β</text>
<path d="M1434.44 81.10h30.92v4.5h-30.92zM1434.44 91.90h30.92v4.5h-30.92z"/>
<text transform="translate(1467.74 102.50) scale(1 1.035)" font-size="61.11px">-73.7°, </text>
<text transform="translate(1664.63 102.50) scale(1.163 1.035)" font-size="61.11px" font-family="'Liberation Serif',serif">λ</text>
<text transform="translate(1698.98 117.70) scale(1 1.035)" font-size="42.78px">AscNode</text>
<path d="M1874.94 81.10h30.92v4.5h-30.92zM1874.94 91.90h30.92v4.5h-30.92z"/>
<text transform="translate(1908.24 102.50) scale(1 1.035)" font-size="61.11px">165.6°E</text>
<g fill="#fff">
<rect x="189.89" y="1508.99" width="7.43" height="5.91"/>
<rect x="202.66" y="1508.99" width="6.93" height="5.91"/>
<rect x="211.52" y="968.99" width="7.43" height="5.91"/>
<rect x="224.28" y="968.99" width="6.93" height="5.91"/>
<rect x="211.52" y="848.99" width="7.43" height="5.91"/>
<rect x="224.28" y="848.99" width="6.93" height="5.91"/>
<rect x="189.89" y="308.99" width="7.43" height="5.91"/>
<rect x="202.66" y="308.99" width="6.93" height="5.91"/>
<rect x="484.11" y="1533.09" width="7.43" height="5.91"/>
<rect x="496.87" y="1533.09" width="6.93" height="5.91"/>
<rect x="626.96" y="1533.09" width="7.43" height="5.91"/>
<rect x="639.73" y="1533.09" width="6.93" height="5.91"/>
<rect x="1950.27" y="1308.99" width="7.43" height="5.91"/>
<rect x="1963.03" y="1308.99" width="6.93" height="5.91"/>
<rect x="1950.27" y="1208.99" width="7.43" height="5.91"/>
<rect x="1963.03" y="1208.99" width="6.93" height="5.91"/>
<rect x="350.43" y="1448.42" width="6.64" height="4.38"/>
<rect x="360.02" y="1448.42" width="6.38" height="4.38"/>
<rect x="495.92" y="182.46" width="8.59" height="5.24"/>
<rect x="508.44" y="182.46" width="8.24" height="5.24"/>
<rect x="1034.53" y="182.46" width="8.59" height="5.24"/>
<rect x="1047.05" y="182.46" width="8.24" height="5.24"/>
<rect x="1086.40" y="182.46" width="8.59" height="5.24"/>
<rect x="1098.91" y="182.46" width="8.24" height="5.24"/>
<rect x="1209.96" y="182.46" width="8.59" height="5.24"/>
<rect x="1222.48" y="182.46" width="8.24" height="5.24"/>
<rect x="1859.90" y="182.46" width="8.59" height="5.24"/>
<rect x="1872.42" y="182.46" width="8.24" height="5.24"/>
<rect x="1958.77" y="182.46" width="8.59" height="5.24"/>
<rect x="1971.29" y="182.46" width="8.24" height="5.24"/>
<rect x="1150.72" y="251.88" width="8.59" height="5.12"/>
<rect x="1163.24" y="251.88" width="8.24" height="5.12"/>
<rect x="804.50" y="96.97" width="11.51" height="6.53"/>
<rect x="821.41" y="96.97" width="11.03" height="6.53"/>
<rect x="909.80" y="96.97" width="11.51" height="6.53"/>
<rect x="926.71" y="96.97" width="11.03" height="6.53"/>
<rect x="1912.10" y="96.97" width="11.51" height="6.53"/>
<rect x="1929.01" y="96.97" width="11.03" height="6.53"/>
</g>
</svg>
</body></html>
